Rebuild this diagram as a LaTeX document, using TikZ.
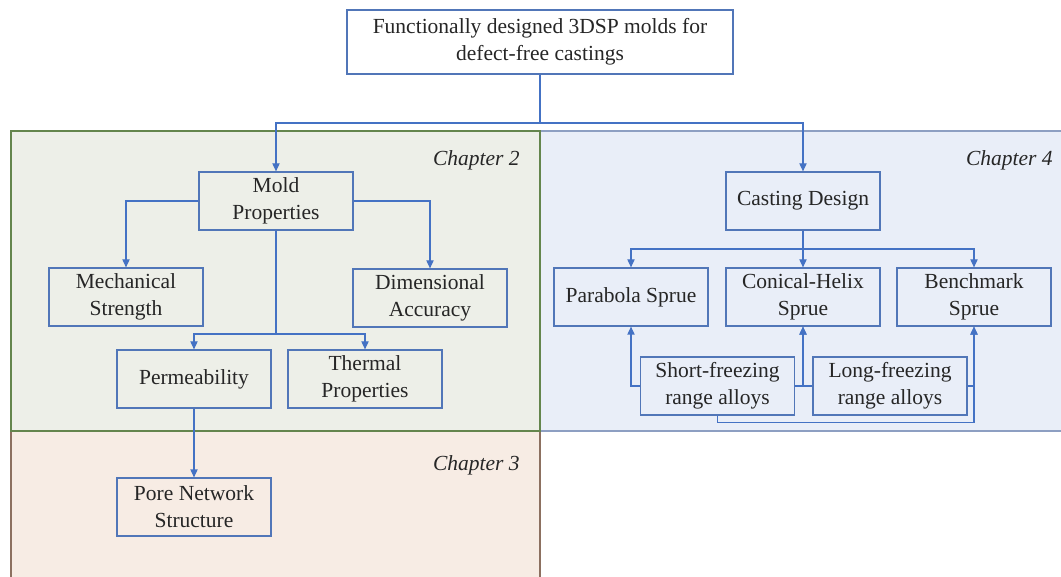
\documentclass[tikz,border=0pt]{standalone}
\usepackage{fontspec}
\setmainfont{Liberation Serif}
\usetikzlibrary{arrows.meta,positioning}
\definecolor{lineblue}{HTML}{4472C4}
\definecolor{boxedge}{HTML}{5176B8}
\definecolor{greenbg}{HTML}{EDEFE8}
\definecolor{greenedge}{HTML}{64854D}
\definecolor{bluebg}{HTML}{E9EEF8}
\definecolor{blueedge}{HTML}{8D9FC2}
\definecolor{orangebg}{HTML}{F7ECE4}
\definecolor{orangeedge}{HTML}{8C7060}
\tikzset{
 box/.style={draw=boxedge,line width=0.6pt,minimum width=77pt,minimum height=29pt,
  align=center,inner sep=1pt,text=black!85,font=\fontsize{10.75}{13.5}\selectfont},
 link/.style={draw=lineblue,line width=0.6pt,-{Triangle[length=4pt,width=3.6pt]}},
 chap/.style={anchor=east,inner sep=0pt,text=black!85,font=\fontsize{10.75}{13}\selectfont\itshape}
}
\begin{document}
\begin{tikzpicture}[x=0.5pt,y=-0.5pt]
\useasboundingbox (0,0) rectangle (1061,577);
\clip (0,0) rectangle (1061,577);
\fill[white] (0,0) rectangle (1061,577);
\filldraw[fill=bluebg,draw=blueedge,line width=0.6pt] (540,131) rectangle (1062,431);
\filldraw[fill=orangebg,draw=orangeedge,line width=0.6pt] (11,431) rectangle (540,590);
\filldraw[fill=greenbg,draw=greenedge,line width=0.6pt] (11,131) rectangle (540,431);
\node[chap] (ch2) at (520,160) {Chapter 2};
\node[chap] (ch3) at (520,465) {Chapter 3};
\node[chap] (ch4) at (1053,160) {Chapter 4};
\node[box,fill=white,minimum width=193pt,minimum height=32pt] (goal) at (540,42)
 {Functionally designed 3DSP molds for\\defect-free castings};
\node[box] (mold) at (276,201) {Mold\\Properties};
\node[box] (mech) at (126,297) {Mechanical\\Strength};
\node[box] (dim) at (430,298) {Dimensional\\Accuracy};
\node[box] (perm) at (194,379) {Permeability};
\node[box] (therm) at (365,379) {Thermal\\Properties};
\node[box] (pore) at (194,507) {Pore Network\\Structure};
\node[box] (cast) at (803,201) {Casting Design};
\node[box] (para) at (631,297) {Parabola Sprue};
\node[box] (helix) at (803,297) {Conical-Helix\\Sprue};
\node[box] (bench) at (974,297) {Benchmark\\Sprue};
\node[box] (short) at (717.5,386) {Short-freezing\\range alloys};
\node[box] (long) at (890,386) {Long-freezing\\range alloys};
\coordinate (split) at (540,123);
\coordinate (mp) at (276,334);
\coordinate (cs) at (803,249);
\foreach \Nodo in {mold,cast}
 \draw[link] (goal.south) -- (split) -| (\Nodo.north);
\draw[link] (mold.west) -| (mech.north);
\draw[link] (mold.east) -| (dim.north);
\foreach \Nodo in {perm,therm}
 \draw[link] (mold.south) -- (mp) -| (\Nodo.north);
\draw[link] (perm) -- (pore);
\foreach \Nodo in {para,helix,bench}
 \draw[link] (cast.south) -- (cs) -| (\Nodo.north);
\draw[link] (short.west) -| (para.south);
\draw[link] (short.east) -| (helix.south);
\draw[link] (long.west) -| (helix.south);
\draw[link] (long.east) -| (bench.south);
\draw[link] (short.south) -- ++(0,7) -| (bench.south);
\end{tikzpicture}
\end{document}
